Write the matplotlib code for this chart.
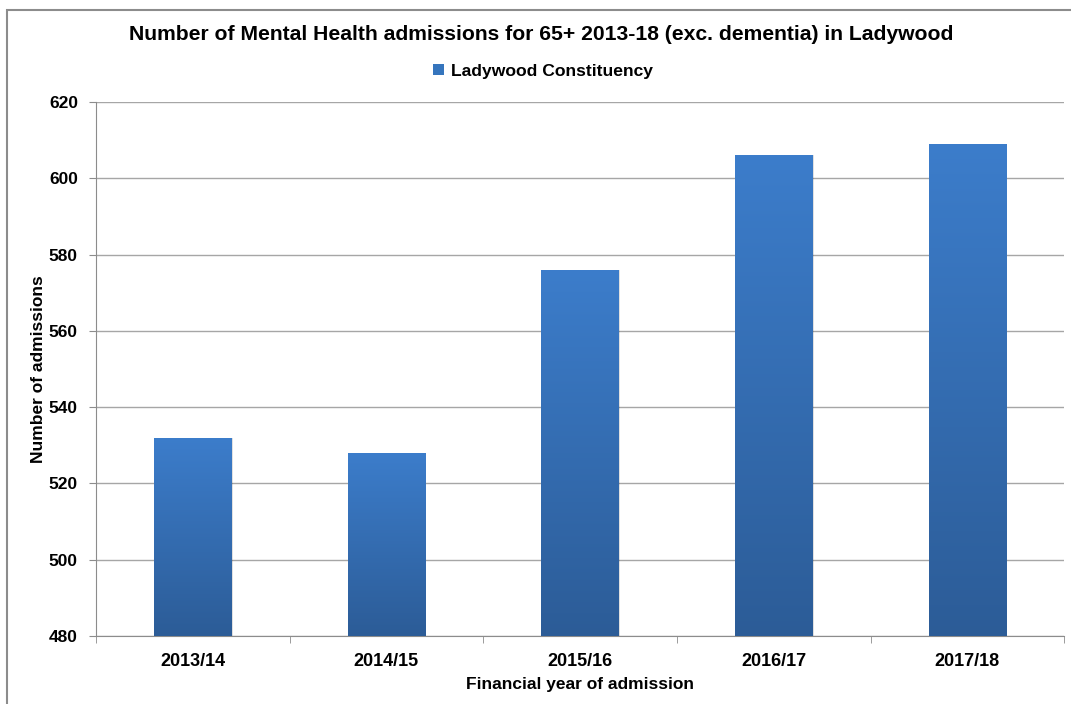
import numpy as np
import matplotlib.pyplot as plt
from matplotlib.patches import Rectangle, Patch
from matplotlib.colors import LinearSegmentedColormap

plt.rcParams['font.family'] = ['Liberation Sans', 'DejaVu Sans']

years = ['2013/14', '2014/15', '2015/16', '2016/17', '2017/18']
admissions = [532, 528, 576, 606, 609]
series_name = 'Ladywood Constituency'

fig = plt.figure(figsize=(10.71, 7.04), dpi=100)
ax = fig.add_axes([0.0896, 0.0966, 0.904, 0.7585])

# outer chart border (runs off the right/bottom edge like the screenshot)
fig.patches.append(Rectangle((7 / 1071, -0.1), 1.2, 1 - 10 / 704 + 0.1,
                             transform=fig.transFigure, fill=False,
                             edgecolor='#8c8c8c', linewidth=1.5))

x = np.arange(len(years))
bars = ax.bar(x, admissions, width=0.4, color='#3575bd', zorder=3)

# vertical gradient: lighter top, darker bottom
cmap = LinearSegmentedColormap.from_list('bar', ['#2c5c97', '#3c7dcb'])
grad = np.linspace(0, 1, 256).reshape(-1, 1)
for b in bars:
    bx, by = b.get_x(), 480
    bw, bh = b.get_width(), b.get_height() - 480 + b.get_y()
    # soft shadow
    ax.add_patch(Rectangle((bx + 0.006, by), bw, bh, color='#000000',
                           alpha=0.12, zorder=2, linewidth=0))
    im = ax.imshow(grad, cmap=cmap, origin='lower', aspect='auto',
                   extent=(bx, bx + bw, by, by + bh), zorder=4)
    im.set_clip_path(b)

ax.set_xlim(-0.5, len(years) - 0.5)
ax.set_ylim(480, 620)
ax.set_yticks(np.arange(480, 621, 20))
ax.set_xticks(x)
ax.set_xticklabels(years)
ax.set_xticks(np.arange(-0.5, len(years), 1), minor=True)

ax.grid(axis='y', color='#a6a6a6', linewidth=1, zorder=0)
ax.set_axisbelow(True)
for s in ['top', 'right']:
    ax.spines[s].set_visible(False)
for s in ['left', 'bottom']:
    ax.spines[s].set_color('#8c8c8c')
ax.tick_params(axis='x', which='major', length=0, pad=12)
ax.tick_params(axis='x', which='minor', length=5, color='#8c8c8c')
ax.tick_params(axis='y', length=5, color='#8c8c8c', pad=8)
for lbl in ax.get_xticklabels():
    lbl.set_fontsize(13)
    lbl.set_fontweight('bold')
for lbl in ax.get_yticklabels():
    lbl.set_fontsize(12.5)
    lbl.set_fontweight('bold')

ax.set_xlabel('Financial year of admission', fontsize=12.5, fontweight='bold', labelpad=5)
ax.set_ylabel('Number of admissions', fontsize=12.5, fontweight='bold', labelpad=2)

fig.text(0.505, 0.951, 'Number of Mental Health admissions for 65+ 2013-18 (exc. dementia) in Ladywood',
         ha='center', va='center', fontsize=15.2, fontweight='bold')

handle = Patch(facecolor='#3575bd', edgecolor='none')
fig.legend([handle], [series_name], loc='center', bbox_to_anchor=(0.507, 0.899),
           frameon=False, prop={'size': 12.6, 'weight': 'bold'},
           handlelength=0.6, handleheight=0.6, handletextpad=0.4)

fig.savefig('out.png', dpi=100)
